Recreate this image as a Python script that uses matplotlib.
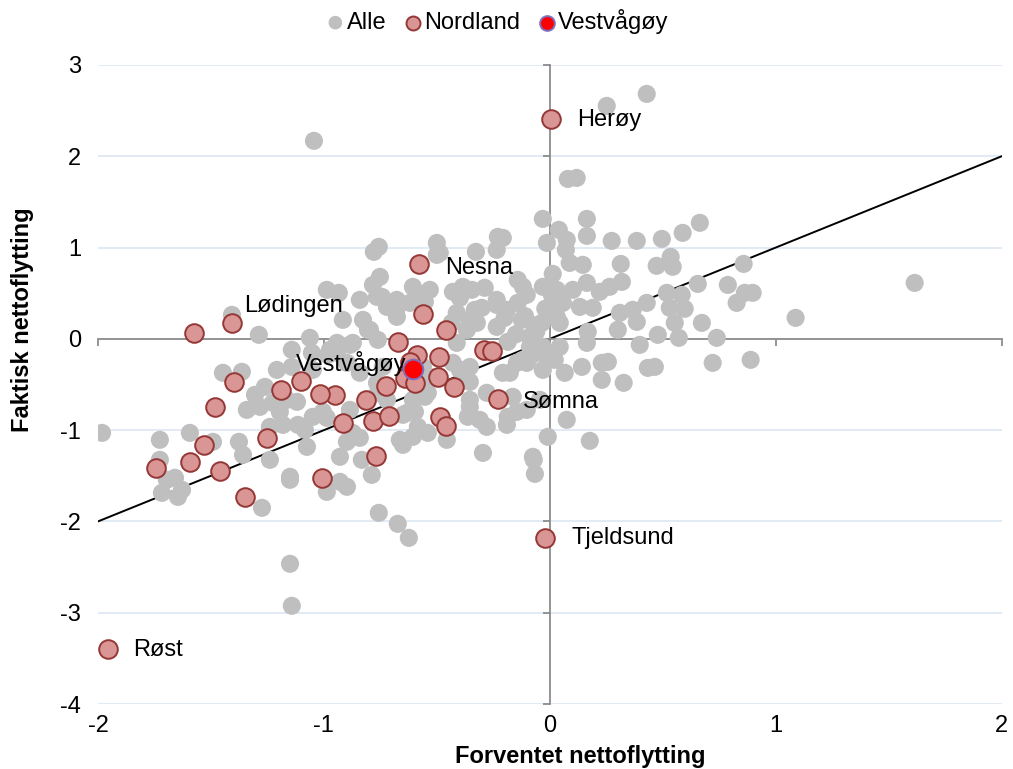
import matplotlib
matplotlib.use("Agg")
import matplotlib.pyplot as plt

plt.rcParams['font.family'] = ['Liberation Sans', 'DejaVu Sans']
plt.rcParams['axes.unicode_minus'] = False

# Alle kommuner: forventet (x) og faktisk (y) nettoflytting
alle_x = [
    -1.044, 0.252, 0.429, 0.080, 0.119, 1.615, 1.088, 0.889, -1.150, -1.142,
    -1.982, -0.071, -0.066, -0.009, 0.177, 0.075,
    0.164, -0.031, 0.040, 0.075, 0.164, 0.274, 0.385, 0.496, 0.588, 0.664,
    -0.013, 0.071, 0.088, 0.146, 0.013, 0.314, 0.473, 0.535, 0.544, 0.858,
    0.164, 0.102, 0.027, 0.221, 0.265, 0.319, 0.518, 0.584, 0.655, 0.788,
    0.827, 0.898, 0.863, 0.133, 0.190, 0.310, 0.367, 0.429, 0.531, 0.597,
    0.301, 0.385, 0.553, 0.673, 0.031, 0.168, 0.478, 0.571, 0.739, 0.398,
    0.164, 0.044, -0.013, 0.142, 0.066, 0.230, 0.257, 0.230, 0.327, 0.434,
    0.465, 0.721,
    -0.230, -0.208, -0.235, -0.327, -0.500, -0.487, -0.757, -0.779, -0.752, -0.743,
    -0.677, -0.606, -0.553, -0.385, -0.345, -0.288, -0.119, -0.102, -0.301, -0.235,
    -0.190, -0.398, -0.354, -0.434, 0.009, 0.022, -0.035,
    -0.987, -0.934, -0.841, -0.783, -0.765, -1.407, -1.288, -1.062, -1.142, -0.942,
    -0.885, -0.805, -0.761,
    -1.447, -1.363, -1.208, -1.261, -1.341, -1.119, -0.973,
    -1.305, -1.226, -1.164, -1.195, -1.142, -1.593, -1.491, -1.376, -1.358, -1.181,
    -1.239, -1.150, -1.075, -1.084, -1.049, -0.987, -0.898, -0.872, -0.929, -0.832,
    -0.788, -0.987, -0.929, -0.898, -1.628, -1.053, -0.982, -0.898, -0.841, -1.049,
    -1.726, -1.726, -1.717, -1.646, -1.659, -1.695, -1.274, -0.757, -0.673, -0.624,
    -1.239, -1.283, -1.115, -1.004, -0.841, -0.650, -0.540, -1.150,
    -0.296, -0.075, -0.190, -0.146, -0.310, -0.456, -0.664, -0.606, -0.650, -0.354,
    -0.279, -0.177, -0.102, -0.031, 0.022, -0.367, -0.354, -0.429, -0.531, -0.540,
    -0.606, -0.633, -0.721, -0.765, -0.412, -0.186, -0.088,
    -0.500, 0.031, -0.142, -0.124, -0.332, -0.367, -0.429, -0.531, -0.619, -0.677,
    -0.796, -0.916, -0.872, -0.942, -0.739, -0.761, -0.562, -0.398, -0.354, -0.208,
    -0.146, -0.088, -0.031, 0.044, 0.058, -0.885, -0.597, -0.584, -0.363, -0.279,
    -0.186, -0.102, -0.044, -0.553, -0.354, -0.164, -0.235, -0.323, -0.412, -0.088,
    -0.031, -0.142, -0.235, -0.575, -0.606, -0.721, -0.827, -0.677,
    -0.060, -0.110, -0.150, -0.050, -0.020, -0.200, -0.120, -0.070,
]
alle_y = [
    2.169, 2.552, 2.683, 1.752, 1.763, 0.613, 0.230, -0.230, -2.464, -2.924,
    -1.030, -1.325, -1.479, -1.073, -1.117, -0.887,
    1.314, 1.314, 1.194, 1.084, 1.128, 1.073, 1.073, 1.095, 1.161, 1.271,
    1.051, 0.975, 0.832, 0.811, 0.712, 0.821, 0.800, 0.898, 0.789, 0.821,
    0.613, 0.537, 0.427, 0.515, 0.570, 0.624, 0.504, 0.482, 0.602, 0.591,
    0.394, 0.504, 0.504, 0.350, 0.340, 0.285, 0.318, 0.394, 0.340, 0.329,
    0.099, 0.186, 0.175, 0.175, 0.241, 0.077, 0.044, 0.011, 0.011, -0.066,
    -0.044, -0.088, -0.197, -0.307, -0.372, -0.263, -0.252, -0.449, -0.482, -0.318,
    -0.307, -0.263,
    1.117, 1.106, 0.975, 0.953, 1.051, 0.942, 1.008, 0.953, 0.679, 0.460,
    0.340, 0.405, 0.405, 0.570, 0.537, 0.559, 0.570, 0.482, 0.340, 0.372,
    0.318, 0.449, 0.208, 0.175, 0.482, 0.296, 0.175,
    0.537, 0.504, 0.427, 0.591, 0.460, 0.263, 0.044, 0.011, -0.120, -0.044,
    -0.066, 0.099, -0.011,
    -0.372, -0.361, -0.340, -0.526, -0.778, -0.690, -0.120,
    -0.613, -0.701, -0.668, -0.800, -0.307, -1.030, -1.128, -1.128, -1.271, -0.942,
    -1.325, -1.511, -1.183, -0.997, -0.854, -0.865, -1.128, -1.030, -1.292, -1.325,
    -1.490, -1.676, -1.566, -1.621, -1.654, -0.153, -0.175, -0.263, -0.372, -0.340,
    -1.106, -1.325, -1.687, -1.731, -1.522, -1.544, -1.851, -1.906, -2.026, -2.180,
    -0.964, -0.745, -0.942, -0.800, -1.084, -1.161, -1.030, -1.544,
    -1.249, -1.292, -0.942, -0.800, -0.887, -1.106, -1.106, -1.073, -0.832, -0.745,
    -0.591, -0.372, -0.263, -0.340, -0.230, -0.449, -0.307, -0.263, -0.416, -0.591,
    -0.668, -0.811, -0.668, -0.482, -0.044, -0.033, -0.088,
    0.920, 0.537, 0.394, 0.208, 0.318, 0.099, 0.515, 0.537, 0.394, 0.241,
    0.099, 0.208, -0.044, -0.153, -0.307, -0.591, -0.307, -0.340, -0.471, -0.372,
    -0.263, -0.197, -0.088, 0.175, 0.394, -0.778, -0.800, -0.964, -0.854, -0.964,
    -0.854, -0.778, -0.668, -0.635, -0.668, -0.635, 0.131, 0.175, 0.285, 0.022,
    0.570, 0.646, 0.427, 0.460, 0.570, 0.350, 0.208, 0.427,
    0.080, 0.250, 0.050, -0.150, 0.330, 0.230, -0.230, 0.150,
]

# Nordland-kommuner
nordland_x = [
    0.004, -0.580, -1.407, -1.575, -0.562, -0.460, -0.673, -0.588, -0.491, -0.292,
    -0.257, -0.633, -0.496, -0.425, -0.726, -0.814, -0.951, -1.018, -1.102, -1.190,
    -1.398, -1.482, -1.531, -1.593, -1.743, -1.460, -1.350, -1.252, -0.916, -0.783,
    -0.712, -0.770, -1.009, -0.487, -0.460, -0.230, -0.022, -1.956, -0.642, -0.597,
    -0.619,
]
nordland_y = [
    2.410, 0.820, 0.175, 0.066, 0.274, 0.099, -0.033, -0.175, -0.197, -0.120,
    -0.131, -0.372, -0.416, -0.526, -0.515, -0.668, -0.613, -0.602, -0.460, -0.559,
    -0.471, -0.745, -1.161, -1.347, -1.413, -1.446, -1.731, -1.084, -0.920, -0.898,
    -0.843, -1.281, -1.522, -0.854, -0.953, -0.657, -2.180, -3.395, -0.427, -0.482,
    -0.252,
]

# Vestvågøy
vest_x = [-0.606]
vest_y = [-0.329]

# navngitte kommuner (indeks i Nordland-listene)
label_names = ["Herøy", "Nesna", "Lødingen", "Sømna", "Tjeldsund", "Røst"]
label_idx = [0, 1, 2, 35, 36, 37]
label_offsets = [(19, -1), (19, -3), (9, 12), (18, -2), (19, 0), (18, -1)]

FS = 17

fig = plt.figure(figsize=(10.13, 7.69), dpi=100)
ax = fig.add_axes([0.0967, 0.0845, 0.8921, 0.831])

ax.set_xlim(-2, 2)
ax.set_ylim(-4, 3)
ax.set_yticks(range(-4, 4))
ax.set_xticks(range(-2, 3))
ax.grid(axis='y', color='#dde6f2', lw=1.2, zorder=0)
ax.set_axisbelow(True)

for side in ['top', 'right']:
    ax.spines[side].set_visible(False)
ax.spines['left'].set_position(('data', 0))
ax.spines['bottom'].set_position(('data', 0))
ax.spines['left'].set_color('#8c8c8c')
ax.spines['bottom'].set_color('#8c8c8c')
ax.spines['left'].set_linewidth(1.3)
ax.spines['bottom'].set_linewidth(1.3)
ax.tick_params(direction='out', length=5, width=1.3, color='#8c8c8c',
               labelbottom=False, labelleft=False)

# tick labels at the outer edges
secx = ax.secondary_xaxis('bottom')
secx.set_xticks(range(-2, 3))
secx.spines['bottom'].set_visible(False)
secx.tick_params(length=0, labelsize=FS, pad=8)
secy = ax.secondary_yaxis('left')
secy.set_yticks(range(-4, 4))
secy.spines['left'].set_visible(False)
secy.tick_params(length=0, labelsize=FS, pad=12)

ax.plot([-2, 2], [-2, 2], color='black', lw=1.4, zorder=2)

ax.scatter(alle_x, alle_y, s=170, color='#bfbfbf', edgecolors='none',
           zorder=3, label='Alle')
ax.scatter(nordland_x, nordland_y, s=180, color='#d99694', edgecolors='#953735',
           linewidths=1.4, zorder=4, label='Nordland')
ax.scatter(vest_x, vest_y, s=200, color='#ff0000', edgecolors='#7f6fbf',
           linewidths=1.4, zorder=5, label='Vestvågøy')

for name, i, off in zip(label_names, label_idx, label_offsets):
    ax.annotate(name, (nordland_x[i], nordland_y[i]), xytext=off,
                textcoords='offset points', ha='left', va='center',
                fontsize=FS, zorder=6)
ax.annotate("Vestvågøy", (vest_x[0], vest_y[0]), xytext=(-5, 4),
            textcoords='offset points', ha='right', va='center',
            fontsize=FS, zorder=6)

fig.text(0.5725, 0.016, 'Forventet nettoflytting', fontsize=FS, fontweight='bold',
         ha='center', va='center')
fig.text(0.022, 0.584, 'Faktisk nettoflytting', fontsize=FS, fontweight='bold',
         ha='center', va='center', rotation=90)

fig.legend(loc='upper center', bbox_to_anchor=(0.484, 1.01), ncol=3,
           frameon=False, fontsize=FS, handletextpad=-0.5, columnspacing=0.1,
           markerscale=0.75, borderaxespad=0.3)

fig.savefig('out.png', dpi=100)
